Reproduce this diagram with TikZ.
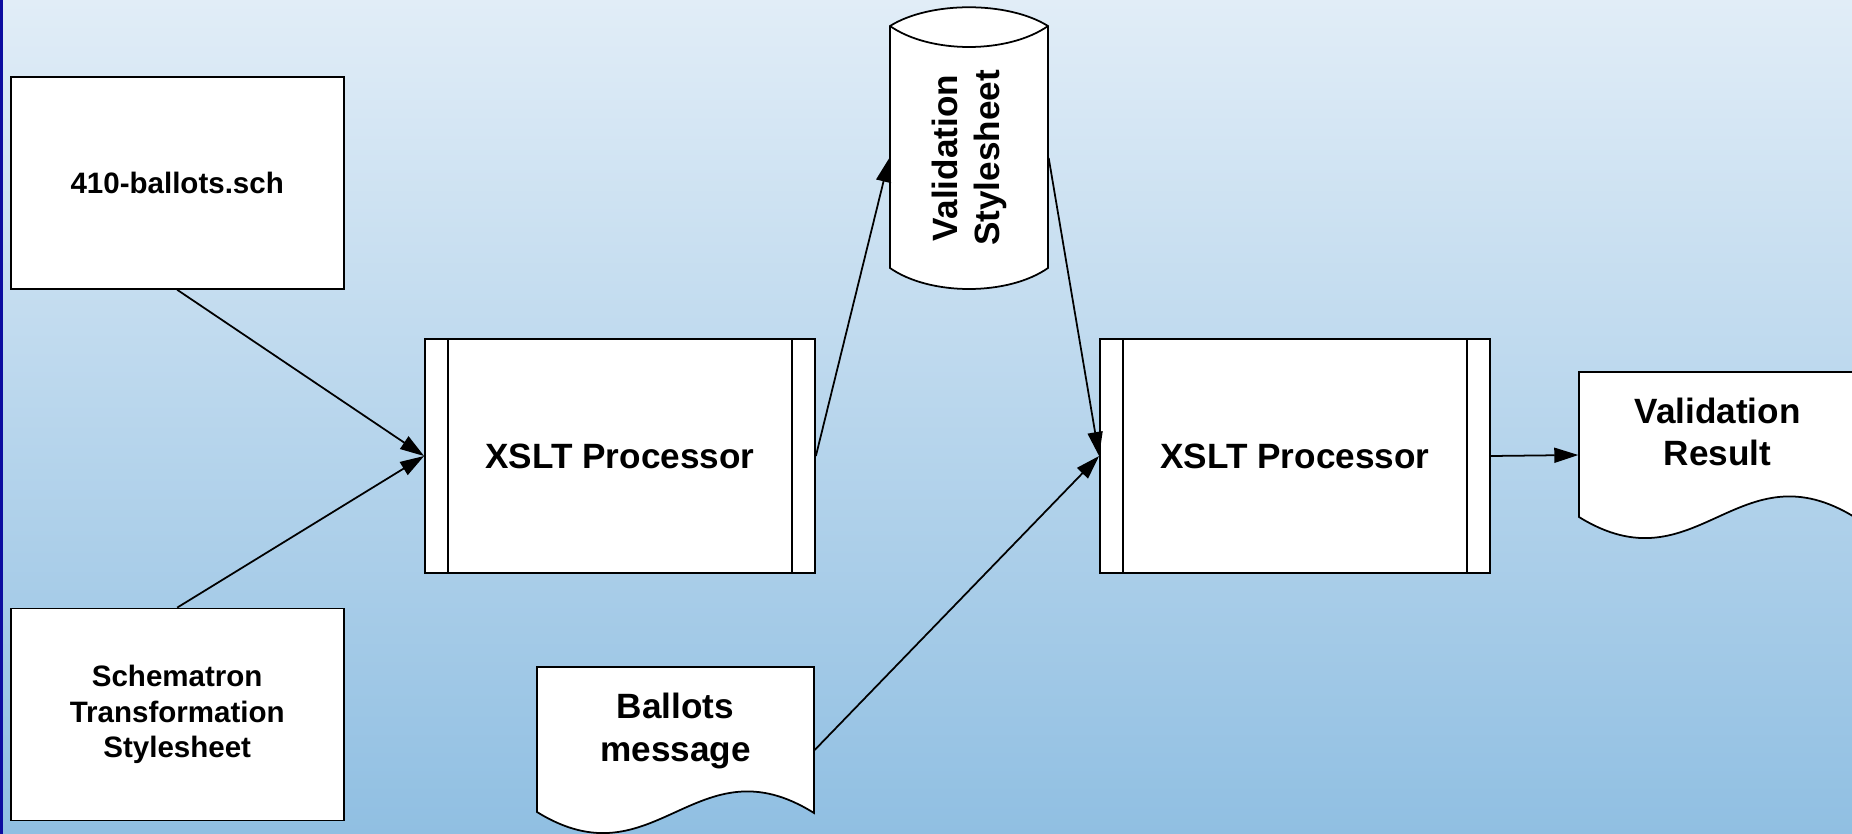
\documentclass[tikz,border=0pt]{standalone}
\usepackage{fontspec}
\setmainfont{Liberation Sans}
\usepackage{tikz}
\usetikzlibrary{arrows.meta}

\definecolor{bgtop}{HTML}{E1EDF7}
\definecolor{bgbottom}{HTML}{90BFE2}
\definecolor{edgeblue}{HTML}{0C0CA0}

\tikzset{
  box/.style={draw, fill=white, line width=0.5pt, minimum width=3.33cm, minimum height=2.12cm,
    align=center, font=\bfseries\fontsize{8.4}{10}\selectfont},
  process/.style={draw, fill=white, line width=0.5pt, minimum width=3.9cm, minimum height=2.34cm,
    font=\bfseries\fontsize{10}{12}\selectfont,
    path picture={
      \draw[line width=0.5pt] ([xshift=0.23cm]path picture bounding box.north west) -- ([xshift=0.23cm]path picture bounding box.south west);
      \draw[line width=0.5pt] ([xshift=-0.23cm]path picture bounding box.north east) -- ([xshift=-0.23cm]path picture bounding box.south east);
    }},
  docnode/.style={minimum width=2.77cm, minimum height=1.66cm, inner sep=0pt},
  doctext/.style={font=\bfseries\fontsize{10}{12}\selectfont, align=center},
  docline/.style={draw, fill=white, line width=0.5pt},
  flow/.style={-{Triangle[length=0.24cm,width=0.15cm]}, line width=0.5pt},
}

\begin{document}
\begin{tikzpicture}[y=-1cm]
  % Background
  \clip (0,0) rectangle (18.52,8.34);
  \shade[top color=bgtop, bottom color=bgbottom] (0,0) rectangle (18.52,8.34);
  \fill[edgeblue] (0,0) rectangle (0.03,8.34);

  % Input files
  \node[box] (sch) at (1.772,1.829) {410-ballots.sch};
  \node[box] (skel) at (1.772,7.145) {Schematron\\Transformation\\Stylesheet};

  % Processors
  \node[process] (xslta) at (6.20,4.56) {XSLT Processor};
  \node[process] (xsltb) at (12.95,4.56) {XSLT Processor};

  % Validation stylesheet (stored data)
  \draw[docline] (8.90,0.26) .. controls (9.30,0.01) and (10.08,0.01) .. (10.48,0.26)
    -- (10.48,2.68) .. controls (10.08,2.96) and (9.30,2.96) .. (8.90,2.68) -- cycle;
  \draw[line width=0.5pt] (8.90,0.26) .. controls (9.30,0.54) and (10.08,0.54) .. (10.48,0.26);
  \node[docnode, minimum width=1.58cm, minimum height=2.4cm,
    label={[doctext,rotate=90]center:Validation\\Stylesheet}] (vstyle) at (9.69,1.58) {};

  % Documents
  \foreach \x/\y in {5.37/6.67, 15.79/3.72}
    \draw[docline, shift={(\x,\y)}] (0,0) -- (2.77,0) -- (2.77,1.46)
      .. controls (1.59,0.72) and (1.18,2.18) .. (0,1.45) -- cycle;
  \node[docnode, label={[doctext,yshift=0.19cm]center:Ballots\\message}] (msg) at (6.755,7.50) {};
  \node[docnode, label={[doctext,yshift=0.23cm]center:Validation\\Result}] (result) at (17.175,4.55) {};

  % Connectors
  \draw[flow] (sch.south) -- (xslta.west);
  \draw[flow] (skel.north) -- (xslta.west);
  \draw[flow] (xslta.east) -- (vstyle.west);
  \draw[flow] (vstyle.east) -- (xsltb.west);
  \draw[flow] (msg.east) -- (xsltb.west);
  \draw[flow] (xsltb.east) -- (result.west);
\end{tikzpicture}
\end{document}
